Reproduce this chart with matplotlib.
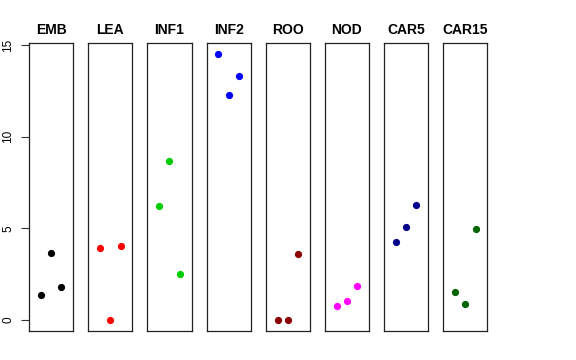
import matplotlib
matplotlib.use("Agg")
import matplotlib.pyplot as plt

plt.rcParams['font.family'] = ['Liberation Sans', 'DejaVu Sans']

groups = ["EMB", "LEA", "INF1", "INF2", "ROO", "NOD", "CAR5", "CAR15"]
colors = ["#000000", "#FF0000", "#00CD00", "#0000FF", "#8B0000", "#FF00FF", "#00008B", "#006400"]
values = {
    "EMB":   [1.38, 3.67, 1.78],
    "LEA":   [3.95, 0.0, 4.02],
    "INF1":  [6.20, 8.69, 2.51],
    "INF2":  [14.53, 12.29, 13.33],
    "ROO":   [0.0, 0.0, 3.60],
    "NOD":   [0.78, 1.04, 1.84],
    "CAR5":  [4.27, 5.09, 6.29],
    "CAR15": [1.55, 0.87, 4.98],
}
yticks = [0, 5, 10, 15]
ylim = (-0.6, 15.13)

W, H = 576, 360
fig = plt.figure(figsize=(W / 100, H / 100), dpi=100)

left0 = 29.0
step = 59.17
pw = 44.3
top_px = 42.7
bot_px = 331.0

for i, (g, c) in enumerate(zip(groups, colors)):
    l = left0 + i * step
    ax = fig.add_axes([l / W, 1 - bot_px / H, pw / W, (bot_px - top_px) / H])
    vals = values[g]
    ax.plot(range(1, len(vals) + 1), vals, 'o', color=c, markersize=5.2,
            markeredgewidth=0)
    ax.set_xlim(-0.16, 4.16)
    ax.set_ylim(*ylim)
    ax.set_xticks([])
    for s in ax.spines.values():
        s.set_linewidth(0.9)
        s.set_color('#222222')
    ax.set_title(g, fontsize=10, fontweight='bold', pad=6.5)
    if i == 0:
        ax.set_yticks(yticks)
        ax.set_yticklabels([str(t) for t in yticks], rotation=90,
                           va='center', fontsize=8.5)
        ax.tick_params(axis='y', length=6, width=0.8, pad=4.5, color='#333333')
    else:
        ax.set_yticks([])

fig.savefig("out.png", dpi=100)
